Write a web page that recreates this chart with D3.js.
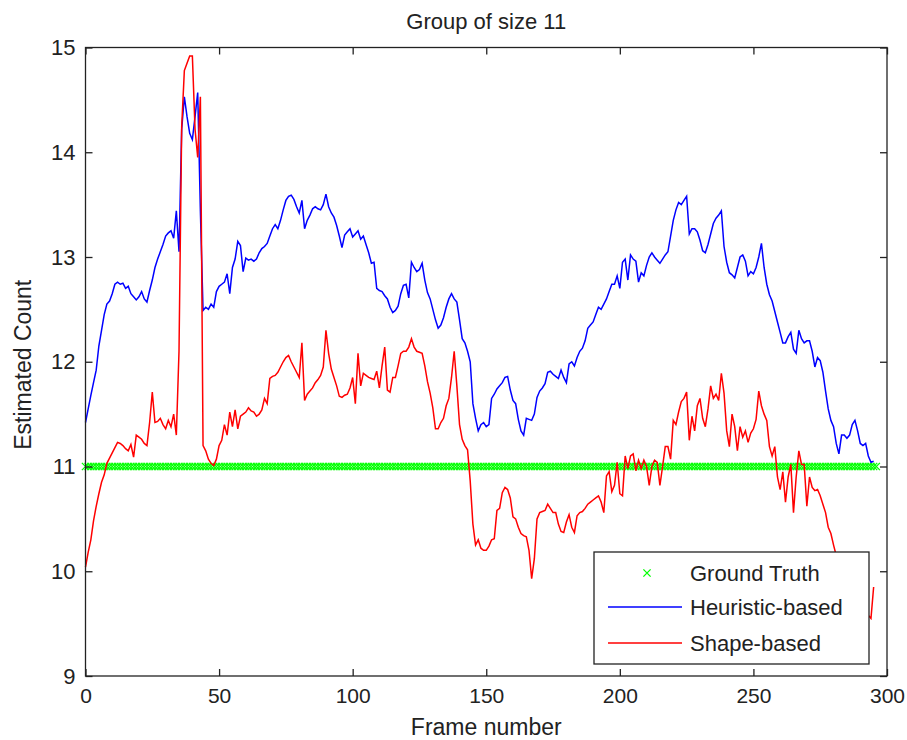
<!DOCTYPE html>
<meta charset="utf-8">
<style>
  body { margin: 0; background: #fff; }
  text { font-family: "Liberation Sans", Arial, sans-serif; fill: #222; }
</style>
<svg width="907" height="740"></svg>
<script src="https://d3js.org/d3.v7.min.js"></script>
<script>

// Estimated counts per frame (frames 0..295)
var heuristic = [
  11.42, 11.55, 11.68, 11.80, 11.92, 12.15, 12.30, 12.45, 12.55, 12.58,
  12.65, 12.74, 12.76, 12.74, 12.75, 12.70, 12.72, 12.65, 12.62, 12.59,
  12.62, 12.67, 12.60, 12.57, 12.68, 12.78, 12.90, 12.98, 13.05, 13.12,
  13.20, 13.23, 13.25, 13.18, 13.44, 13.05, 14.22, 14.53, 14.34, 14.18,
  14.12, 14.34, 14.57, 13.44, 12.49, 12.52, 12.50, 12.55, 12.52, 12.67,
  12.72, 12.74, 12.76, 12.84, 12.65, 12.90, 12.98, 13.15, 13.11, 12.86,
  12.99, 12.97, 12.98, 12.96, 12.98, 13.04, 13.08, 13.10, 13.13, 13.20,
  13.27, 13.31, 13.27, 13.35, 13.45, 13.54, 13.58, 13.59, 13.55, 13.48,
  13.42, 13.54, 13.27, 13.35, 13.40, 13.46, 13.48, 13.46, 13.45, 13.50,
  13.60, 13.48, 13.42, 13.38, 13.30, 13.20, 13.09, 13.21, 13.24, 13.27,
  13.19, 13.22, 13.25, 13.17, 13.20, 13.12, 13.04, 12.94, 12.95, 12.70,
  12.68, 12.67, 12.63, 12.60, 12.52, 12.47, 12.49, 12.53, 12.65, 12.73,
  12.74, 12.61, 12.95, 12.90, 12.86, 12.88, 12.94, 12.78, 12.66, 12.60,
  12.50, 12.40, 12.32, 12.35, 12.42, 12.52, 12.60, 12.65, 12.60, 12.57,
  12.40, 12.22, 12.18, 12.10, 12.00, 11.60, 11.46, 11.34, 11.40, 11.42,
  11.38, 11.40, 11.65, 11.69, 11.74, 11.77, 11.80, 11.85, 11.86, 11.73,
  11.63, 11.60, 11.45, 11.34, 11.30, 11.46, 11.45, 11.44, 11.50, 11.66,
  11.72, 11.75, 11.79, 11.90, 11.91, 11.88, 11.86, 11.84, 11.92, 11.85,
  11.80, 11.98, 12.00, 11.96, 12.04, 12.10, 12.13, 12.20, 12.32, 12.35,
  12.38, 12.45, 12.52, 12.50, 12.55, 12.60, 12.67, 12.74, 12.74, 12.82,
  12.70, 12.95, 12.98, 12.78, 13.02, 12.98, 12.96, 12.76, 12.85, 12.82,
  12.92, 13.00, 13.04, 13.00, 12.97, 12.94, 12.98, 13.02, 13.05, 13.20,
  13.35, 13.45, 13.52, 13.50, 13.54, 13.58, 13.22, 13.27, 13.27, 13.24,
  13.16, 13.06, 13.04, 13.12, 13.22, 13.32, 13.37, 13.40, 13.44, 13.10,
  12.95, 12.85, 12.83, 12.80, 12.90, 13.00, 13.02, 12.96, 12.82, 12.86,
  12.84, 12.90, 13.00, 13.13, 12.90, 12.74, 12.64, 12.58, 12.48, 12.38,
  12.28, 12.18, 12.18, 12.24, 12.28, 12.12, 12.08, 12.30, 12.22, 12.18,
  12.20, 12.20, 12.10, 11.95, 12.04, 12.01, 11.90, 11.72, 11.55, 11.44,
  11.38, 11.22, 11.12, 11.30, 11.30, 11.27, 11.30, 11.40, 11.44, 11.34,
  11.22, 11.20, 11.22, 11.10, 11.04, 11.05
];

var shape = [
  10.04, 10.18, 10.30, 10.48, 10.62, 10.74, 10.85, 10.92, 11.03, 11.08,
  11.13, 11.18, 11.23, 11.22, 11.20, 11.17, 11.15, 11.21, 11.09, 11.30,
  11.28, 11.26, 11.22, 11.20, 11.42, 11.71, 11.42, 11.43, 11.46, 11.40,
  11.36, 11.44, 11.38, 11.50, 11.30, 12.10, 14.24, 14.78, 14.85, 14.92,
  14.92, 14.22, 13.95, 14.53, 11.20, 11.15, 11.07, 11.03, 11.01, 11.07,
  11.20, 11.25, 11.40, 11.30, 11.52, 11.38, 11.54, 11.36, 11.48, 11.50,
  11.52, 11.56, 11.53, 11.52, 11.48, 11.50, 11.54, 11.65, 11.60, 11.84,
  11.86, 11.87, 11.90, 11.95, 12.00, 12.04, 12.06, 12.00, 11.95, 11.90,
  11.85, 12.18, 11.63, 11.69, 11.72, 11.75, 11.80, 11.83, 11.87, 11.95,
  12.30, 12.08, 11.93, 11.85, 11.77, 11.67, 11.66, 11.68, 11.69, 11.75,
  11.85, 11.60, 12.08, 11.77, 11.89, 11.87, 11.85, 11.84, 11.83, 11.91,
  11.75, 11.96, 12.14, 11.73, 11.71, 11.85, 11.85, 11.96, 12.08, 12.10,
  12.10, 12.14, 12.22, 12.14, 12.10, 12.09, 12.08, 11.96, 11.81, 11.70,
  11.56, 11.36, 11.36, 11.42, 11.46, 11.58, 11.65, 11.85, 12.10, 11.77,
  11.40, 11.26, 11.20, 11.16, 10.86, 10.45, 10.25, 10.30, 10.22, 10.20,
  10.20, 10.24, 10.30, 10.31, 10.58, 10.60, 10.75, 10.80, 10.78, 10.70,
  10.52, 10.50, 10.42, 10.36, 10.34, 10.33, 10.20, 9.93, 10.12, 10.50,
  10.56, 10.57, 10.58, 10.64, 10.60, 10.56, 10.56, 10.45, 10.38, 10.37,
  10.47, 10.54, 10.42, 10.37, 10.53, 10.56, 10.57, 10.60, 10.64, 10.66,
  10.68, 10.70, 10.72, 10.66, 10.56, 10.91, 10.95, 10.76, 10.82, 11.04,
  10.74, 10.72, 11.10, 10.98, 11.10, 11.12, 10.96, 11.06, 10.98, 11.06,
  11.00, 10.82, 11.00, 11.06, 11.04, 10.82, 11.00, 11.19, 11.19, 11.07,
  11.44, 11.40, 11.52, 11.62, 11.65, 11.71, 11.25, 11.48, 11.34, 11.58,
  11.65, 11.46, 11.38, 11.55, 11.77, 11.65, 11.69, 11.63, 11.89, 11.70,
  11.34, 11.19, 11.50, 11.38, 11.15, 11.38, 11.28, 11.34, 11.23, 11.32,
  11.36, 11.45, 11.72, 11.58, 11.50, 11.44, 11.19, 11.10, 11.19, 10.90,
  10.78, 10.95, 10.66, 10.90, 11.02, 10.56, 10.90, 11.15, 11.02, 11.02,
  10.62, 10.90, 10.80, 10.77, 10.78, 10.72, 10.64, 10.56, 10.42, 10.36,
  10.25, 10.15, 10.05, 9.98, 9.90, 9.85, 9.80, 9.78, 9.72, 9.70,
  9.66, 9.62, 9.60, 9.58, 9.55, 9.85
];

// ground truth: the group always has 11 people
var groundTruth = 11;
var truthFrames = d3.range(0, 297);

var xTicks = [0, 50, 100, 150, 200, 250, 300];
var yTicks = [9, 10, 11, 12, 13, 14, 15];

var legendLabels = ["Ground Truth", "Heuristic-based", "Shape-based"];
var legendColors = ["#00ff00", "#0000ff", "#ff0000"];

var svg = d3.select("svg");
svg.append("rect").attr("width", 907).attr("height", 740).attr("fill", "#fff");

var plotL = 85.5, plotR = 887, plotT = 47.5, plotB = 676;

var x = d3.scaleLinear().domain([0, 300]).range([plotL, plotR]);
var y = d3.scaleLinear().domain([9, 15]).range([plotB, plotT]);

var g = svg.append("g");

// ground truth markers (x marks on every frame)
var m = 3.6;
g.append("g")
    .attr("stroke", "#00ff00")
    .attr("stroke-width", 1.3)
  .selectAll("path")
  .data(truthFrames)
  .join("path")
    .attr("d", function(d) {
      var cx = x(d), cy = y(groundTruth);
      return "M" + (cx - m) + "," + (cy - m) + "L" + (cx + m) + "," + (cy + m) +
             "M" + (cx - m) + "," + (cy + m) + "L" + (cx + m) + "," + (cy - m);
    });

var line = d3.line()
    .x(function(d, i) { return x(i); })
    .y(function(d) { return y(d); });

g.append("path")
    .datum(heuristic)
    .attr("fill", "none")
    .attr("stroke", "#0000ff")
    .attr("stroke-width", 1.5)
    .attr("d", line);

g.append("path")
    .datum(shape)
    .attr("fill", "none")
    .attr("stroke", "#ff0000")
    .attr("stroke-width", 1.5)
    .attr("d", line);

// axes, ticks pointing inward on all four sides
function styleAxis(sel) {
  sel.select(".domain").remove();
  sel.selectAll("line").attr("stroke", "#222").attr("stroke-width", 1.3);
  sel.selectAll("text").attr("font-size", 21).attr("fill", "#222")
     .attr("font-family", "'Liberation Sans', Arial, sans-serif");
}

svg.append("g")
    .attr("transform", "translate(0," + plotB + ")")
    .call(d3.axisBottom(x).tickValues(xTicks).tickSize(-7).tickPadding(12))
    .call(styleAxis);

svg.append("g")
    .attr("transform", "translate(0," + plotT + ")")
    .call(d3.axisTop(x).tickValues(xTicks).tickSize(-7).tickFormat(""))
    .call(styleAxis);

svg.append("g")
    .attr("transform", "translate(" + plotL + ",0)")
    .call(d3.axisLeft(y).tickValues(yTicks).tickFormat(d3.format("d")).tickSize(-7).tickPadding(10))
    .call(styleAxis)
    .selectAll("text").attr("font-size", 22);

svg.append("g")
    .attr("transform", "translate(" + plotR + ",0)")
    .call(d3.axisRight(y).tickValues(yTicks).tickSize(-7).tickFormat(""))
    .call(styleAxis);

svg.append("rect")
    .attr("x", plotL).attr("y", plotT)
    .attr("width", plotR - plotL).attr("height", plotB - plotT)
    .attr("fill", "none").attr("stroke", "#222").attr("stroke-width", 1.3);

// title and axis labels
svg.append("text")
    .attr("x", (plotL + plotR) / 2).attr("y", 29)
    .attr("text-anchor", "middle").attr("font-size", 22)
    .text("Group of size 11");

svg.append("text")
    .attr("x", (plotL + plotR) / 2).attr("y", 735)
    .attr("text-anchor", "middle").attr("font-size", 23)
    .text("Frame number");

svg.append("text")
    .attr("transform", "translate(31," + ((plotT + plotB) / 2 + 3) + ") rotate(-90)")
    .attr("text-anchor", "middle").attr("font-size", 23)
    .text("Estimated Count");

// legend
var lg = svg.append("g").attr("transform", "translate(594,552)");
lg.append("rect")
    .attr("width", 275).attr("height", 112)
    .attr("fill", "#fff").attr("stroke", "#222").attr("stroke-width", 1.3);

var rowY = [21, 55, 91];
legendLabels.forEach(function(label, i) {
  if (i === 0) {
    lg.append("path")
        .attr("stroke", legendColors[i]).attr("stroke-width", 1.3)
        .attr("d", "M" + (53 - m) + "," + (rowY[i] - m) + "L" + (53 + m) + "," + (rowY[i] + m) +
                   "M" + (53 - m) + "," + (rowY[i] + m) + "L" + (53 + m) + "," + (rowY[i] - m));
  } else {
    lg.append("line")
        .attr("x1", 14).attr("x2", 88)
        .attr("y1", rowY[i]).attr("y2", rowY[i])
        .attr("stroke", legendColors[i]).attr("stroke-width", 1.5);
  }
  lg.append("text")
      .attr("x", 96).attr("y", rowY[i] + 8)
      .attr("font-size", 22)
      .text(label);
});

</script>
